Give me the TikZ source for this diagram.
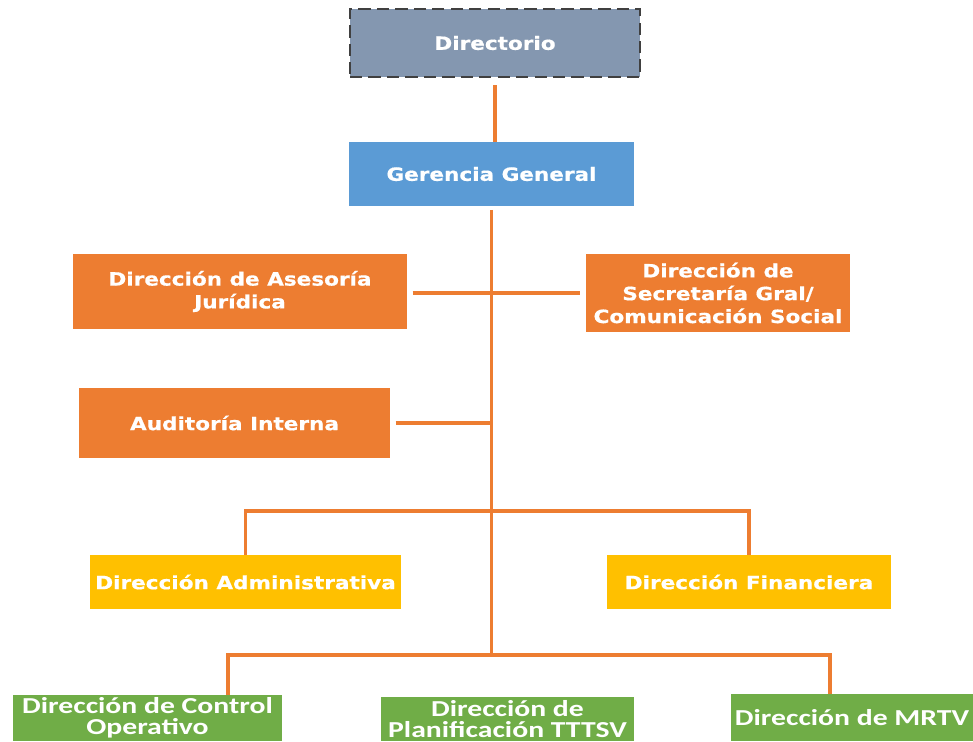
\documentclass[tikz,border=0pt]{standalone}
\usepackage{fontspec}
\usepackage{tikz}
\usetikzlibrary{positioning}
\usepackage{xcolor}

\newfontfamily\widefont[FakeStretch=1.18, FakeBold=0.6]{DejaVu Sans}
\newfontfamily\narrowfont[FakeStretch=1.3]{Carlito}

\definecolor{dirgray}{HTML}{8497B0}
\definecolor{gerblue}{HTML}{5B9BD5}
\definecolor{orgorange}{HTML}{ED7D31}
\definecolor{orgyellow}{HTML}{FFC000}
\definecolor{orggreen}{HTML}{70AD47}
\definecolor{borderdark}{HTML}{404040}

\begin{document}
\begin{tikzpicture}[x=0.02cm, y=-0.02cm,
  orgbox/.style={inner sep=0pt, align=center, text=white,
    font=\widefont\bfseries\fontsize{10.4}{13}\selectfont},
  lowbox/.style={orgbox, fill=orggreen,
    font=\narrowfont\bfseries\fontsize{13}{12}\selectfont},
  orgline/.style={draw=orgorange, line width=1.8pt}]

\useasboundingbox (0,0) rectangle (973,741);

% top of the chart
\node[orgbox, fill=dirgray, draw=borderdark, line width=1.5pt,
  dash pattern=on 7pt off 3.5pt, minimum width=5.8cm, minimum height=1.36cm]
  (dir) at (495,43) {Directorio};
\node[orgbox, fill=gerblue, minimum width=5.7cm, minimum height=1.28cm]
  (ger) at (491.5,174) {Gerencia General};

% staff units
\node[orgbox, fill=orgorange, minimum width=6.68cm, minimum height=1.5cm]
  (jur) at (240,291.5) {Dirección de Asesoría\\Jurídica};
\node[orgbox, fill=orgorange, minimum width=5.28cm, minimum height=1.56cm]
  (sec) at (718,293) {Dirección de\\Secretaría Gral/\\Comunicación Social};
\node[orgbox, fill=orgorange, minimum width=6.22cm, minimum height=1.4cm]
  (aud) at (234.5,423) {Auditoría Interna};

% support units
\node[orgbox, fill=orgyellow, minimum width=6.22cm, minimum height=1.08cm]
  (adm) at (245.5,582) {Dirección Administrativa};
\node[orgbox, fill=orgyellow, minimum width=5.68cm, minimum height=1.08cm]
  (fin) at (749,582) {Dirección Financiera};

% line units (they reach the lower edge)
\node[lowbox, minimum width=5.38cm, minimum height=0.92cm]
  (ctl) at (147.5,718) {Dirección de Control\\Operativo};
\node[lowbox, minimum width=5.06cm, minimum height=0.88cm]
  (pla) at (507.5,719) {Dirección de\\Planificación TTTSV};
\node[lowbox, minimum width=4.84cm, minimum height=0.94cm]
  (mrt) at (852,717.5) {Dirección de MRTV};

\coordinate (ma) at (491.5,511);
\coordinate (mb) at (491.5,655);
\coordinate (cl) at (228,695);
\coordinate (mr) at (830,694);

\draw[orgline, shorten <=4pt] (dir.south) -- (dir.south |- ger.north);
\draw[orgline, line width=2.2pt, shorten <=2pt] (ger.south) -- (mb);
\draw[orgline, shorten <=3pt, shorten >=3pt] (jur.east |- sec.west) -- (sec.west);
\draw[orgline, shorten <=3pt] (aud.east) -- (aud.east -| ma);
\draw[orgline] (adm.north) |- (ma) -| (fin.north);
\draw[orgline] (cl) |- (mb) -| (mr);

\end{tikzpicture}
\end{document}
